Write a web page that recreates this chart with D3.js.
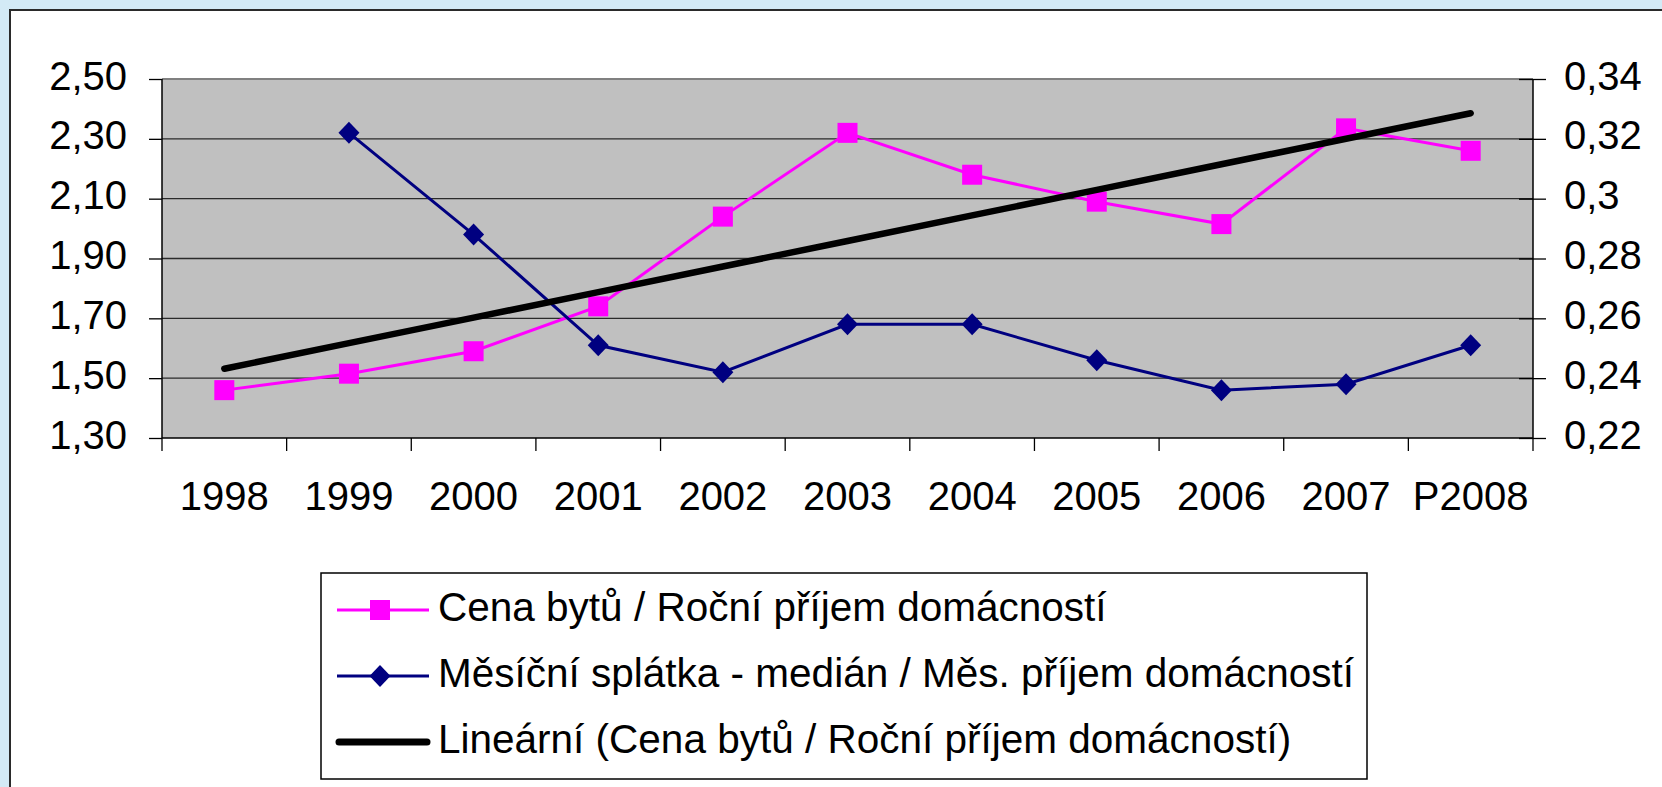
<!DOCTYPE html>
<html>
<head>
<meta charset="utf-8">
<script src="https://cdn.jsdelivr.net/npm/d3@7"></script>
<style>
  html, body { margin: 0; padding: 0; background: #D3EAF6; }
  svg { display: block; }
  text { font-family: "Liberation Sans", Arial, sans-serif; fill: #000; }
</style>
</head>
<body>
<svg id="chart" width="1662" height="787"></svg>
<script>
// ---- data ----
const categories = ["1998","1999","2000","2001","2002","2003","2004","2005","2006","2007","P2008"];
const priceToIncome = [1.46, 1.515, 1.59, 1.74, 2.04, 2.32, 2.18, 2.09, 2.015, 2.335, 2.26];
const paymentToIncome = [null, 0.322, 0.288, 0.251, 0.242, 0.258, 0.258, 0.246, 0.236, 0.238, 0.251];
const leftTicks = [1.30, 1.50, 1.70, 1.90, 2.10, 2.30, 2.50];
const leftTickLabels = ["1,30","1,50","1,70","1,90","2,10","2,30","2,50"];
const rightTicks = [0.22, 0.24, 0.26, 0.28, 0.30, 0.32, 0.34];
const rightTickLabels = ["0,22","0,24","0,26","0,28","0,3","0,32","0,34"];
const seriesNames = [
  "Cena bytů / Roční příjem domácností",
  "Měsíční splátka - medián / Měs. příjem domácností",
  "Lineární (Cena bytů / Roční příjem domácností)"
];

// ---- layout ----
const svg = d3.select("#chart");
const W = 1662, H = 787;
const plot = { left: 162, right: 1533, top: 79, bottom: 438 };

svg.append("rect").attr("x", 0).attr("y", 0).attr("width", W).attr("height", H).attr("fill", "#D3EAF6");
svg.append("rect").attr("x", 10).attr("y", 10).attr("width", W + 20).attr("height", H + 20)
  .attr("fill", "#fff").attr("stroke", "#2a2a2a").attr("stroke-width", 2);

const x = d3.scaleBand().domain(categories).range([plot.left, plot.right]);
const yL = d3.scaleLinear().domain([1.3, 2.5]).range([plot.bottom, plot.top]);
const yR = d3.scaleLinear().domain([0.22, 0.34]).range([plot.bottom, plot.top]);
const cx = d => x(d) + x.bandwidth() / 2;

svg.append("rect").attr("x", plot.left).attr("y", plot.top)
  .attr("width", plot.right - plot.left).attr("height", plot.bottom - plot.top)
  .attr("fill", "#C0C0C0");

svg.append("g").selectAll("line").data(leftTicks.slice(1, -1)).join("line")
  .attr("x1", plot.left).attr("x2", plot.right)
  .attr("y1", d => yL(d)).attr("y2", d => yL(d))
  .attr("stroke", "#2b2b2b").attr("stroke-width", 1.3);
svg.append("line").attr("x1", plot.left).attr("x2", plot.right)
  .attr("y1", plot.top).attr("y2", plot.top).attr("stroke", "#808080").attr("stroke-width", 2);

const leftAxis = d3.axisLeft(yL).tickValues(leftTicks)
  .tickFormat((d, i) => leftTickLabels[i]).tickSize(13).tickPadding(22);
const gL = svg.append("g").attr("transform", `translate(${plot.left},0)`).call(leftAxis);
gL.select(".domain").attr("stroke", "#000").attr("stroke-width", 1.5).attr("d", `M0,${plot.top}V${plot.bottom}`);
gL.selectAll(".tick line").attr("stroke", "#000").attr("stroke-width", 1.3);
gL.selectAll(".tick text").attr("font-size", 40).attr("font-family", "Liberation Sans, Arial")
  .attr("dy", 10).attr("x", -35).attr("fill", "#000");

const rightAxis = d3.axisRight(yR).tickValues(rightTicks)
  .tickFormat((d, i) => rightTickLabels[i]).tickSize(13).tickPadding(18);
const gR = svg.append("g").attr("transform", `translate(${plot.right},0)`).call(rightAxis);
gR.select(".domain").attr("stroke", "#000").attr("stroke-width", 1.5).attr("d", `M0,${plot.top}V${plot.bottom}`);
gR.selectAll(".tick line").attr("stroke", "#000").attr("stroke-width", 1.3).attr("x1", -14).attr("x2", 13);
gR.selectAll(".tick text").attr("font-size", 40).attr("font-family", "Liberation Sans, Arial")
  .attr("dy", 10).attr("x", 31).attr("fill", "#000");

const bottomAxis = d3.axisBottom(x).tickSize(0).tickPadding(0);
const gB = svg.append("g").attr("transform", `translate(0,${plot.bottom})`).call(bottomAxis);
gB.select(".domain").attr("stroke", "#000").attr("stroke-width", 1.5).attr("d", `M${plot.left},0H${plot.right}`);
gB.selectAll(".tick text").attr("font-size", 40).attr("font-family", "Liberation Sans, Arial")
  .attr("y", 72).attr("dy", 0).attr("fill", "#000");
const boundaries = categories.map(c => x(c)).concat([plot.right]);
svg.append("g").selectAll("line").data(boundaries).join("line")
  .attr("x1", d => d).attr("x2", d => d)
  .attr("y1", plot.bottom).attr("y2", plot.bottom + 13)
  .attr("stroke", "#000").attr("stroke-width", 1.3);

// trendline (least squares fit of price/income series)
const n = priceToIncome.length;
const xs = d3.range(n);
const mx = d3.mean(xs), my = d3.mean(priceToIncome);
const slope = d3.sum(xs, i => (i - mx) * (priceToIncome[i] - my)) / d3.sum(xs, i => (i - mx) ** 2);
const intercept = my - slope * mx;
const trend = xs.map(i => intercept + slope * i);

const g = svg.append("g");

const linePink = d3.line().x((d, i) => cx(categories[i])).y(d => yL(d));
g.append("path").datum(priceToIncome).attr("d", linePink)
  .attr("fill", "none").attr("stroke", "#FF00FF").attr("stroke-width", 3);

const lineBlue = d3.line().defined(d => d != null).x((d, i) => cx(categories[i])).y(d => yR(d));
g.append("path").datum(paymentToIncome).attr("d", lineBlue)
  .attr("fill", "none").attr("stroke", "#000080").attr("stroke-width", 3);

g.append("g").selectAll("rect").data(priceToIncome).join("rect")
  .attr("x", (d, i) => cx(categories[i]) - 10).attr("y", d => yL(d) - 10)
  .attr("width", 20).attr("height", 20).attr("fill", "#FF00FF");

g.append("g").selectAll("path").data(paymentToIncome.map((v, i) => ({v, i})).filter(d => d.v != null)).join("path")
  .attr("d", d => { const px = cx(categories[d.i]), py = yR(d.v); return `M${px},${py-11}L${px+10.5},${py}L${px},${py+11}L${px-10.5},${py}Z`; })
  .attr("fill", "#000080");

const lineTrend = d3.line().x((d, i) => cx(categories[i])).y(d => yL(d));
g.append("path").datum(trend).attr("d", lineTrend)
  .attr("fill", "none").attr("stroke", "#000").attr("stroke-width", 6.5).attr("stroke-linecap", "round");

// ---- legend ----
const leg = svg.append("g");
leg.append("rect").attr("x", 321).attr("y", 573).attr("width", 1046).attr("height", 206)
  .attr("fill", "#fff").attr("stroke", "#000").attr("stroke-width", 1.5);
const rows = [610, 676, 742];
const lx1 = 337, lx2 = 429, lmx = 380;
leg.append("line").attr("x1", lx1).attr("x2", lx2).attr("y1", rows[0]).attr("y2", rows[0])
  .attr("stroke", "#FF00FF").attr("stroke-width", 3);
leg.append("rect").attr("x", lmx - 10).attr("y", rows[0] - 10).attr("width", 20).attr("height", 20).attr("fill", "#FF00FF");
leg.append("line").attr("x1", lx1).attr("x2", lx2).attr("y1", rows[1]).attr("y2", rows[1])
  .attr("stroke", "#000080").attr("stroke-width", 3);
leg.append("path").attr("d", `M${lmx},${rows[1]-11}L${lmx+10.5},${rows[1]}L${lmx},${rows[1]+11}L${lmx-10.5},${rows[1]}Z`).attr("fill", "#000080");
leg.append("line").attr("x1", lx1 + 2).attr("x2", lx2 - 2).attr("y1", rows[2]).attr("y2", rows[2])
  .attr("stroke", "#000").attr("stroke-width", 7).attr("stroke-linecap", "round");

leg.selectAll("text.lab").data(seriesNames).join("text").attr("class", "lab")
  .attr("x", 438).attr("y", (d, i) => rows[i] + 11)
  .attr("font-size", 40.5).text(d => d);
</script>
</body>
</html>
